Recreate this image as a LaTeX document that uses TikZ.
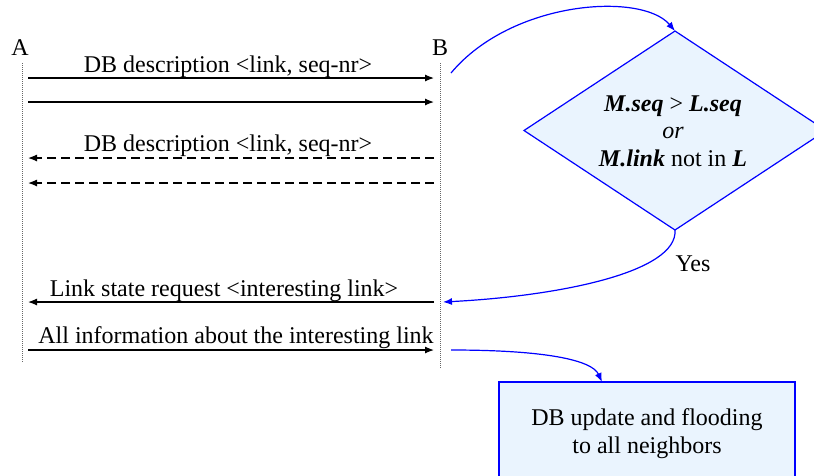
\documentclass[tikz,border=0pt]{standalone}
\usepackage{fontspec}
\setmainfont{Liberation Serif}
\usetikzlibrary{shapes.geometric,arrows.meta}
\definecolor{boxblue}{RGB}{234,244,254}
\begin{document}
\begin{tikzpicture}[x=1pt,y=-1pt,
  every node/.style={font=\fontsize{24}{27.5}\selectfont, inner sep=0pt, outer sep=0pt},
  msg/.style={line width=1.2pt, -{Latex[length=9pt,width=7pt]}},
  dmsg/.style={msg, dash pattern=on 9pt off 5pt},
  flow/.style={blue, line width=1.2pt, -{Latex[length=9pt,width=7pt]}},
  life/.style={gray!80!black, line width=0.8pt, dash pattern=on 1pt off 1pt},
  lbl/.style={anchor=base},
  shapefill/.style={fill=boxblue, draw=blue, line width=1.2pt}]
\useasboundingbox (0,0) rectangle (814,475);
\clip (0,0) rectangle (814,475);

% lifelines
\node[lbl] (A) at (20,55) {A};
\node[lbl] (B) at (440,55) {B};
\coordinate (Atop) at (22,63);  \coordinate (Abot) at (22,362);
\coordinate (Btop) at (440,63); \coordinate (Bbot) at (440,368);
\draw[life] (Atop) -- (Abot);
\draw[life] (Btop) -- (Bbot);

% message end points
\coordinate (a1) at (28,78);  \coordinate (b1) at (434,78);
\coordinate (a2) at (28,102); \coordinate (b2) at (434,102);
\coordinate (a3) at (28,158); \coordinate (b3) at (434,158);
\coordinate (a4) at (28,183); \coordinate (b4) at (434,183);
\coordinate (a5) at (28,302); \coordinate (b5) at (434,302);
\coordinate (a6) at (28,350); \coordinate (b6) at (434,350);

\draw[msg] (a1) -- (b1);
\draw[msg] (a2) -- (b2);
\draw[dmsg] (b3) -- (a3);
\draw[dmsg] (b4) -- (a4);
\draw[msg] (b5) -- (a5);
\draw[msg] (a6) -- (b6);

\node[lbl] (l1) at (228,72) {DB description <link, seq-nr>};
\node[lbl] (l3) at (228,151) {DB description <link, seq-nr>};
\node[lbl] (l5) at (224,296) {Link state request <interesting link>};
\node[lbl] (l6) at (236,343) {All information about the interesting link};

% decision diamond
\node[diamond, shapefill, minimum width=302pt, minimum height=199pt, aspect=1.52] (dec) at (675,130.5) {};
\node[align=center] (dectxt) at (673,131)
  {\textbf{\textit{M.seq}} > \textbf{\textit{L.seq}}\\ \textit{or}\\ \textbf{\textit{M.link}} not in \textbf{\textit{L}}};
\node[lbl] (yes) at (693,271) {Yes};

% update box
\node[rectangle, shapefill, minimum width=296pt, minimum height=110pt, anchor=north west] (upd) at (499,382) {};
\node[align=center] (updtxt) at (647,433.5) {DB update and flooding\\to all neighbors};

% blue connectors
\coordinate (c1s) at (451,73);
\coordinate (c2e) at (443,302);
\coordinate (c3s) at (451,350);
\coordinate (c3e) at (602,382);
\draw[flow] (c1s) .. controls (512,0) and (642,-8) .. (dec.north);
\draw[flow] (dec.south) .. controls (678,272) and (560,296) .. (c2e);
\draw[flow] (c3s) .. controls (545,350) and (592,360) .. (c3e);
\end{tikzpicture}
\end{document}
